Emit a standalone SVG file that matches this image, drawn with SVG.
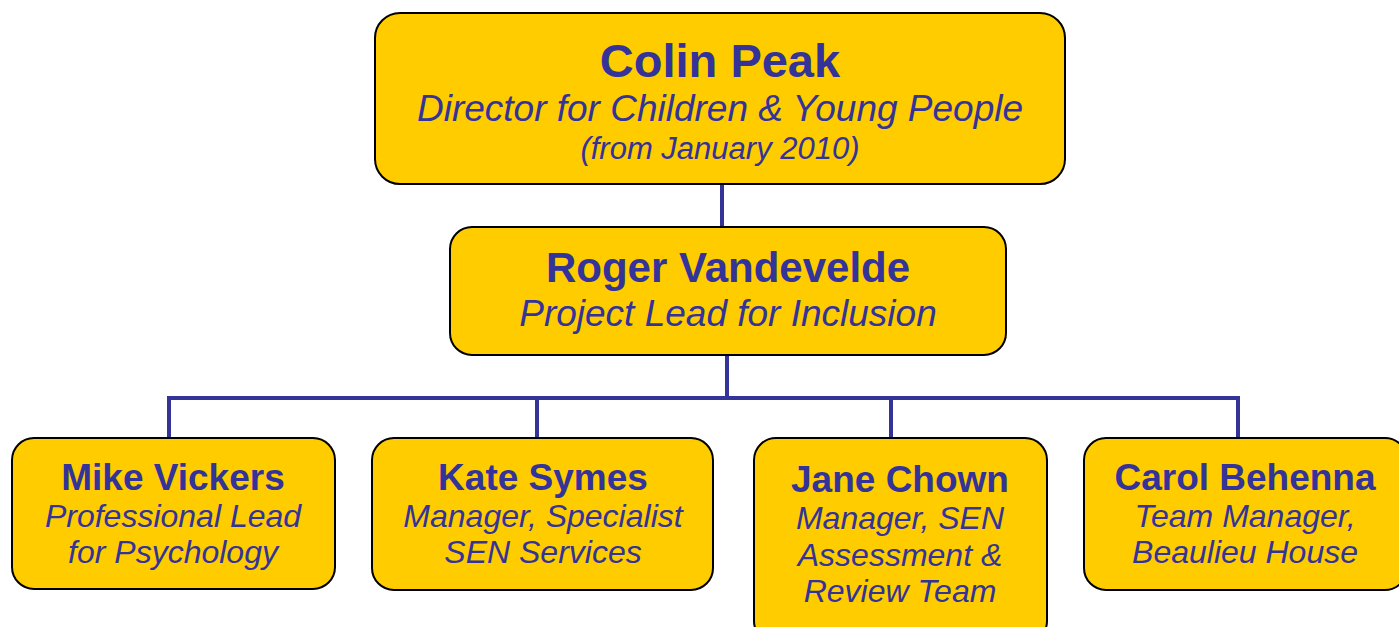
<svg xmlns="http://www.w3.org/2000/svg" width="1399" height="627" viewBox="0 0 1399 627">
<style>
.box{fill:#FFCC00;stroke:#000;stroke-width:2}
.name{font-family:"Liberation Sans",Arial,sans-serif;font-weight:bold;fill:#333399;text-anchor:middle}
.role{font-family:"Liberation Sans",Arial,sans-serif;font-style:italic;fill:#333399;text-anchor:middle}
.conn{fill:none;stroke:#333399;stroke-width:4}
</style>
<rect width="1399" height="627" fill="#fff"/>
<g id="connectors">
<path class="conn" d="M722,185 V227"/>
<path class="conn" d="M727,355 V398 M169,438 V398 H1238 V438 M537,398 V438 M891,398 V438"/>
</g>
<g id="colin">
<rect class="box" x="375" y="13" width="690" height="171" rx="25"/>
<text class="name" x="720" y="77" font-size="47">Colin Peak</text>
<text class="role" x="720" y="121" font-size="37">Director for Children &amp; Young People</text>
<text class="role" x="720" y="159" font-size="31">(from January 2010)</text>
</g>
<g id="roger">
<rect class="box" x="450" y="227" width="556" height="128" rx="22"/>
<text class="name" x="728" y="282" font-size="42">Roger Vandevelde</text>
<text class="role" x="728" y="326" font-size="37">Project Lead for Inclusion</text>
</g>
<g id="mike">
<rect class="box" x="12" y="438" width="323" height="151" rx="22"/>
<text class="name" x="173" y="490" font-size="37">Mike Vickers</text>
<text class="role" x="173" y="527" font-size="32">Professional Lead</text>
<text class="role" x="173" y="563" font-size="32">for Psychology</text>
</g>
<g id="kate">
<rect class="box" x="372" y="438" width="341" height="152" rx="22"/>
<text class="name" x="543" y="490" font-size="37">Kate Symes</text>
<text class="role" x="543" y="527" font-size="32">Manager, Specialist</text>
<text class="role" x="543" y="563" font-size="32">SEN Services</text>
</g>
<g id="jane">
<rect class="box" x="754" y="438" width="293" height="205" rx="22"/>
<text class="name" x="900" y="492" font-size="37">Jane Chown</text>
<text class="role" x="900" y="529" font-size="32">Manager, SEN</text>
<text class="role" x="900" y="566" font-size="32">Assessment &amp;</text>
<text class="role" x="900" y="602" font-size="32">Review Team</text>
</g>
<g id="carol">
<rect class="box" x="1084" y="438" width="323" height="152" rx="22"/>
<text class="name" x="1245" y="490" font-size="37">Carol Behenna</text>
<text class="role" x="1245" y="527" font-size="32">Team Manager,</text>
<text class="role" x="1245" y="563" font-size="32">Beaulieu House</text>
</g>
</svg>
